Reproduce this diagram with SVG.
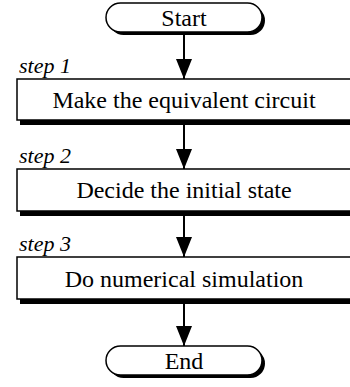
<svg xmlns="http://www.w3.org/2000/svg" width="350" height="387" viewBox="0 0 350 387">
<style>
.sh{fill:#000}
.bx{fill:#fff;stroke:#000;stroke-width:1.5}
.t{font-family:"Liberation Serif","Times New Roman",Times,serif;font-size:24px;fill:#000;text-anchor:middle}
.s{font-family:"Liberation Serif","Times New Roman",Times,serif;font-size:22px;font-style:italic;fill:#000}
.ln{stroke:#000;stroke-width:2;fill:none}
</style>
<defs>
<marker id="ah" viewBox="0 0 20 16" refX="20" refY="8" markerWidth="20" markerHeight="16" markerUnits="userSpaceOnUse" orient="auto">
<path d="M0,0 L20,8 L0,16 Z" fill="#000"/>
</marker>
</defs>
<g id="connectors">
<line class="ln" x1="184" y1="34" x2="184" y2="79" marker-end="url(#ah)"/>
<line class="ln" x1="184" y1="124" x2="184" y2="169" marker-end="url(#ah)"/>
<line class="ln" x1="184" y1="215" x2="184" y2="257" marker-end="url(#ah)"/>
<line class="ln" x1="184" y1="304" x2="184" y2="346" marker-end="url(#ah)"/>
</g>
<g id="start">
<rect class="sh" x="109" y="6" width="156" height="29" rx="14.5"/>
<rect class="bx" x="106" y="3" width="156" height="29" rx="14.5"/>
<text class="t" x="184" y="26">Start</text>
</g>
<g id="step1">
<text class="s" x="19" y="73">step 1</text>
<rect class="sh" x="20" y="83" width="340" height="42"/>
<rect class="bx" x="17" y="79" width="340" height="41"/>
<text class="t" x="184" y="108">Make the equivalent circuit</text>
</g>
<g id="step2">
<text class="s" x="19" y="163">step 2</text>
<rect class="sh" x="20" y="173" width="340" height="43"/>
<rect class="bx" x="17" y="169" width="340" height="42"/>
<text class="t" x="184" y="198">Decide the initial state</text>
</g>
<g id="step3">
<text class="s" x="19" y="251">step 3</text>
<rect class="sh" x="20" y="261" width="340" height="43"/>
<rect class="bx" x="17" y="257" width="340" height="42"/>
<text class="t" x="184" y="287">Do numerical simulation</text>
</g>
<g id="end">
<rect class="sh" x="109" y="349" width="156" height="29" rx="14.5"/>
<rect class="bx" x="106" y="346" width="156" height="29" rx="14.5"/>
<text class="t" x="184" y="369">End</text>
</g>
</svg>
